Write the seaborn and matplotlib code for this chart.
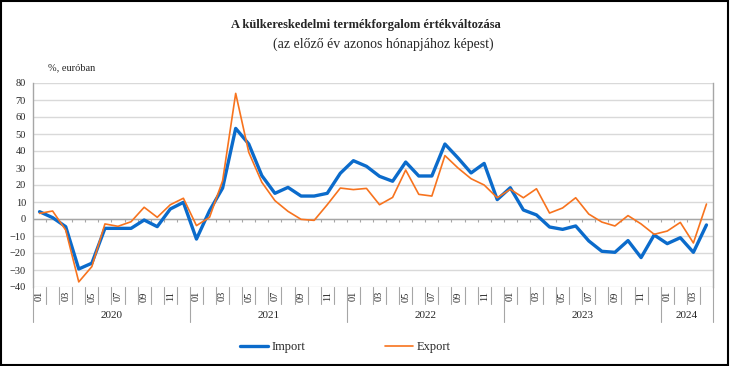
import numpy as np
import pandas as pd
import matplotlib
matplotlib.use("Agg")
import matplotlib.pyplot as plt
import matplotlib.transforms as mtransforms
from matplotlib.patches import Rectangle
from matplotlib.lines import Line2D
import seaborn as sns

# monthly data, 2020-01 .. 2024-04
years = ["2020", "2021", "2022", "2023", "2024"]
months_per_year = [12, 12, 12, 12, 4]
import_vals = [4.3, 0.8, -4.5, -29.4, -26.0, -5.5, -5.5, -5.5, -0.6, -4.5, 5.9, 9.8,
               -11.8, 4.9, 18.2, 53.3, 44.1, 25.5, 15.1, 18.6, 13.5, 13.5, 15.1, 26.9,
               34.3, 31.0, 25.1, 22.2, 33.5, 25.3, 25.3, 44.1, 35.9, 27.1, 32.7, 11.4,
               18.4, 5.3, 2.4, -4.7, -6.1, -4.1, -12.9, -19.0, -19.6, -12.7, -22.7, -9.4,
               -14.5, -11.0, -19.6, -3.5]
export_vals = [3.3, 4.7, -6.5, -37.0, -28.0, -2.9, -4.3, -1.6, 6.9, 1.0, 8.4, 12.2,
               -3.9, 1.0, 22.5, 73.9, 39.2, 21.6, 10.8, 4.5, -0.2, -0.8, 8.4, 18.2,
               17.3, 18.0, 8.4, 12.7, 28.8, 14.5, 13.5, 37.3, 30.0, 23.7, 20.0, 12.5,
               17.5, 12.5, 17.8, 3.5, 6.5, 12.5, 2.9, -1.8, -4.1, 2.0, -2.9, -9.0,
               -7.1, -2.0, -14.1, 8.8]

month_labels = []
for n in months_per_year:
    month_labels += [f"{m:02d}" for m in range(1, n + 1)]
n = len(month_labels)
pos = np.arange(n) + 0.5

df = pd.DataFrame({
    "pos": np.concatenate([pos, pos]),
    "value": import_vals + export_vals,
    "series": ["Import"] * n + ["Export"] * n,
})

blue = "#0B6BCB"
orange = "#F7731E"
grid_c = "#D9D9D9"
axis_c = "#A6A6A6"

sns.set_style("white")
plt.rcParams["font.family"] = ["Liberation Serif", "DejaVu Serif"]

fig = plt.figure(figsize=(7.3, 3.66), dpi=100)
ax = fig.add_axes([33 / 730, 1 - 287 / 366, 680 / 730, 204 / 366])

sns.lineplot(data=df, x="pos", y="value", hue="series", size="series",
             palette={"Import": blue, "Export": orange},
             sizes={"Import": 2.4, "Export": 1.2}, ax=ax, legend=False)

ax.set_xlim(0, n)
ax.set_ylim(-40, 80)
ax.set_yticks(np.arange(-40, 81, 10))
ax.set_yticklabels([str(v).replace("-", "\u2212") for v in range(-40, 81, 10)], fontsize=7.5)
ax.yaxis.grid(True, color=grid_c, linewidth=1)
ax.set_axisbelow(True)
ax.tick_params(axis="y", length=3, color=axis_c, pad=2)
for s in ["top", "bottom"]:
    ax.spines[s].set_visible(False)
for s in ["left", "right"]:
    ax.spines[s].set_color(axis_c)
    ax.spines[s].set_linewidth(1)
ax.set_xlabel("")
ax.set_ylabel("")

# odd month labels
ax.set_xticks(pos[::2])
ax.set_xticklabels(month_labels[::2], rotation=90, fontsize=7.5)
ax.tick_params(axis="x", length=0, pad=3)

# zero axis with small ticks
ax.axhline(0, color=axis_c, linewidth=1, zorder=1)
bounds = np.arange(n + 1)
ax.vlines(bounds, -1.6, 0, color=axis_c, linewidth=0.8, zorder=1)

# category separators below the axis
trans = mtransforms.blended_transform_factory(ax.transData, ax.transAxes)
year_starts = np.cumsum([0] + months_per_year)
for b in bounds:
    low = -0.172 if b in year_starts else -0.083
    ax.plot([b, b], [0, low], color=axis_c, linewidth=0.8, transform=trans, clip_on=False)
for i, y in enumerate(years):
    mid = (year_starts[i] + year_starts[i + 1]) / 2
    ax.text(mid, -0.142, y, transform=trans, ha="center", va="center", fontsize=8)

# titles
fig.text(366 / 730, 1 - 25 / 366, "A külkereskedelmi termékforgalom értékváltozása",
         ha="center", va="center", fontsize=9, fontweight="bold")
fig.text(383 / 730, 1 - 44 / 366, "(az előző év azonos hónapjához képest)",
         ha="center", va="center", fontsize=10)
fig.text(48 / 730, 1 - 68 / 366, "%, euróban", ha="left", va="center", fontsize=7.5)

# legend
handles = [Line2D([], [], color=blue, linewidth=2.4), Line2D([], [], color=orange, linewidth=1.2)]
fig.legend(handles, ["Import", "Export"], loc="center", bbox_to_anchor=(0.473, 1 - 347 / 366),
           ncol=2, frameon=False, fontsize=9, handlelength=2.2, handletextpad=0.3,
           columnspacing=6.4)

# outer frame
fig.patches.append(Rectangle((0.002, 0.003), 0.995, 0.994, transform=fig.transFigure,
                             fill=False, edgecolor="black", linewidth=1.5))

fig.savefig("out.png", dpi=100)
